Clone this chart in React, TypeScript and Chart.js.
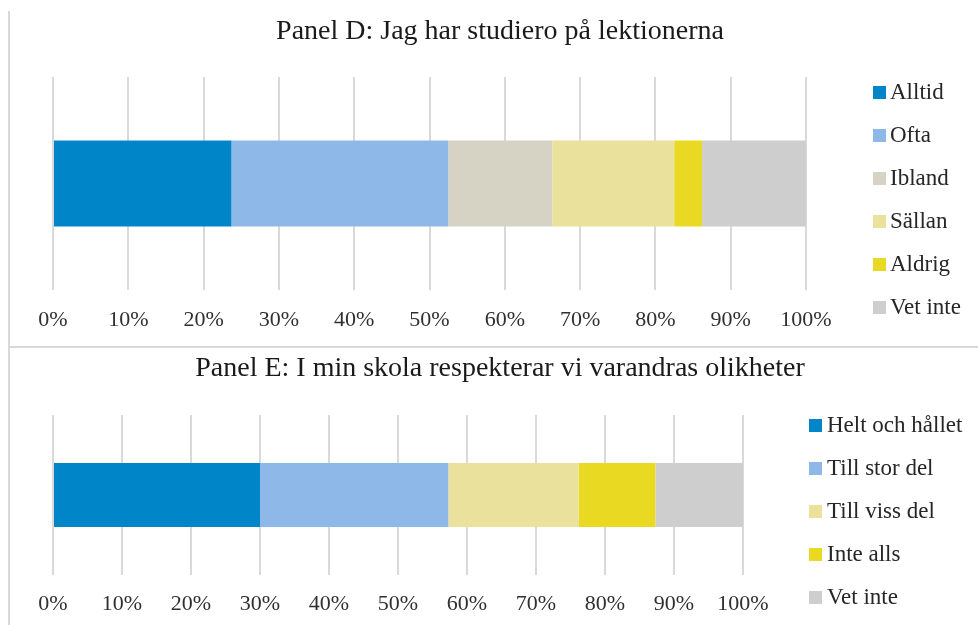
import React, { useEffect, useRef } from "react";
import Chart from "chart.js/auto";

// ---------- Data ----------
const panelDTitle = "Panel D: Jag har studiero på lektionerna";
const panelDLabels = ["Alltid", "Ofta", "Ibland", "Sällan", "Aldrig", "Vet inte"];
const panelDValues = [23.7, 28.8, 13.8, 16.2, 3.7, 13.8];
const panelDColors = ["#0085C8", "#8DB8E8", "#D6D3C4", "#EAE29C", "#E9D923", "#CECECE"];

const panelETitle = "Panel E: I min skola respekterar vi varandras olikheter";
const panelELabels = ["Helt och hållet", "Till stor del", "Till viss del", "Inte alls", "Vet inte"];
const panelEValues = [30.0, 27.3, 18.9, 11.1, 12.7];
const panelEColors = ["#0085C8", "#8DB8E8", "#EAE29C", "#E9D923", "#CECECE"];

const axisMin = 0;
const axisMax = 100;
const axisStep = 10;

const FONT = "'Liberation Serif', 'Times New Roman', serif";

type PanelProps = {
  labels: string[];
  values: number[];
  colors: string[];
  width: number;
  height: number;
  padLeft: number;
  padRight: number;
  padTop: number;
  axisHeight: number;
  tickPad: number;
  barPct: number;
};

function BarPanel(p: PanelProps) {
  const ref = useRef<HTMLCanvasElement | null>(null);
  useEffect(() => {
    if (!ref.current) return;
    const chart = new Chart(ref.current, {
      type: "bar",
      data: {
        labels: [""],
        datasets: p.labels.map((l, i) => ({
          label: l,
          data: [p.values[i]],
          backgroundColor: p.colors[i],
          borderWidth: 0,
          categoryPercentage: 1,
          barPercentage: p.barPct,
        })),
      },
      options: {
        indexAxis: "y",
        animation: false,
        responsive: false,
        maintainAspectRatio: false,
        layout: { padding: { left: p.padLeft, right: p.padRight, top: p.padTop, bottom: 0 } },
        plugins: {
          legend: { display: false },
          title: { display: false },
          tooltip: { enabled: false },
        },
        scales: {
          x: {
            stacked: true,
            min: axisMin,
            max: axisMax,
            afterFit: (s: any) => {
              s.height = p.axisHeight;
            },
            ticks: {
              stepSize: axisStep,
              autoSkip: false,
              maxRotation: 0,
              padding: p.tickPad,
              color: "#303030",
              font: { family: FONT, size: 22 },
              callback: (v: any) => v + "%",
            },
            grid: { color: "#D9D9D9", lineWidth: 2, drawTicks: false },
            border: { display: false },
          },
          y: { stacked: true, display: false, grid: { display: false } },
        },
      },
    } as any);
    return () => chart.destroy();
  }, []);
  return <canvas ref={ref} width={p.width} height={p.height} style={{ width: p.width, height: p.height, display: "block" }} />;
}

function Legend({ labels, colors, left, top, textLeft }: { labels: string[]; colors: string[]; left: number; top: number; textLeft: number }) {
  return (
    <>
      {labels.map((l, i) => (
        <div key={l} style={{ position: "absolute", left, top: top + i * 43, height: 22 }}>
          <div style={{ position: "absolute", left: 0, top: 5, width: 13, height: 13, background: colors[i] }} />
          <div
            style={{
              position: "absolute",
              left: textLeft,
              top: -1,
              whiteSpace: "nowrap",
              fontFamily: FONT,
              fontSize: 23,
              lineHeight: "23px",
              color: "#262626",
            }}
          >
            {l}
          </div>
        </div>
      ))}
    </>
  );
}

function Title({ text, top }: { text: string; top: number }) {
  return (
    <div
      style={{
        position: "absolute",
        left: 500,
        top,
        transform: "translateX(-50%)",
        whiteSpace: "nowrap",
        fontFamily: FONT,
        fontSize: 28,
        lineHeight: "28px",
        color: "#1a1a1a",
      }}
    >
      {text}
    </div>
  );
}

export default function App() {
  return (
    <div style={{ position: "absolute", left: 0, top: 0, width: 978, height: 625, background: "#fff", overflow: "hidden" }}>
      <div style={{ position: "absolute", left: 0, top: 0 }}>
        <BarPanel
          labels={panelDLabels}
          values={panelDValues}
          colors={panelDColors}
          width={978}
          height={347}
          padLeft={53}
          padRight={172}
          padTop={77}
          axisHeight={57}
          tickPad={17}
          barPct={0.404}
        />
      </div>
      <div style={{ position: "absolute", left: 0, top: 348 }}>
        <BarPanel
          labels={panelELabels}
          values={panelEValues}
          colors={panelEColors}
          width={978}
          height={277}
          padLeft={53}
          padRight={235}
          padTop={67}
          axisHeight={50}
          tickPad={16}
          barPct={0.4}
        />
      </div>
      <Title text={panelDTitle} top={16} />
      <Title text={panelETitle} top={353} />
      <Legend labels={panelDLabels} colors={panelDColors} left={873} top={81} textLeft={17} />
      <Legend labels={panelELabels} colors={panelEColors} left={809} top={414} textLeft={18} />
      <div style={{ position: "absolute", left: 8, top: 11, width: 2, height: 614, background: "#D9D9D9" }} />
      <div style={{ position: "absolute", left: 8, top: 346, width: 970, height: 2, background: "#D9D9D9" }} />
    </div>
  );
}
